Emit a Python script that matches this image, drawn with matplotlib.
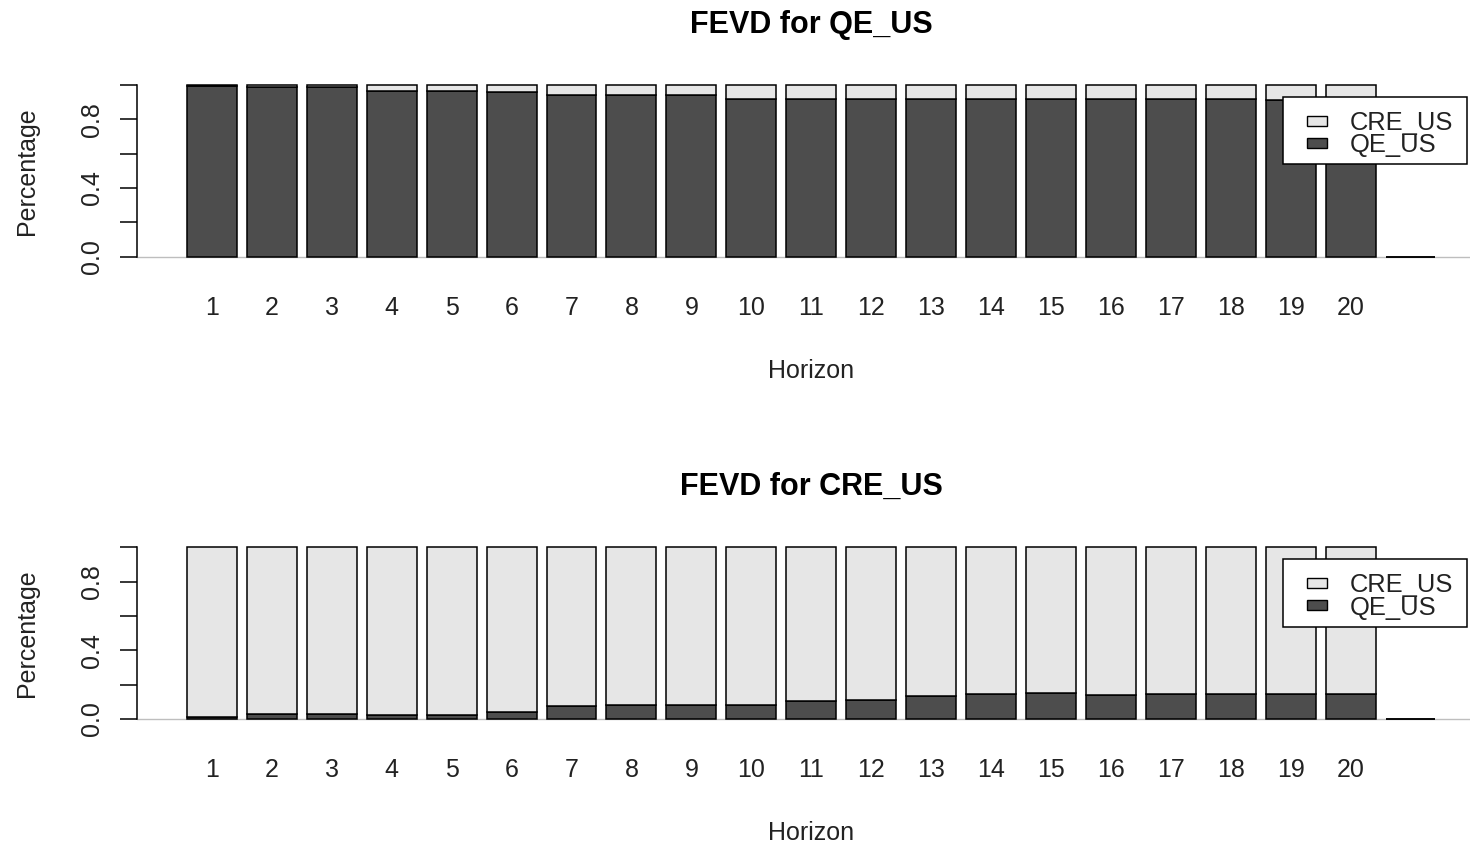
import matplotlib
matplotlib.use("Agg")
import matplotlib.pyplot as plt
from matplotlib.patches import Rectangle

plt.rcParams['font.family'] = ['Liberation Sans', 'DejaVu Sans']

# forecast error variance decomposition, horizons 1..20
horizons = [str(h) for h in range(1, 21)]
variables = ['CRE_US', 'QE_US']

# FEVD for QE_US
qe_share_qe = [0.994, 0.990, 0.987, 0.962, 0.962, 0.961, 0.940, 0.940, 0.942, 0.921,
               0.921, 0.921, 0.921, 0.921, 0.921, 0.921, 0.921, 0.920, 0.913, 0.913]
cre_share_qe = [0.006, 0.010, 0.013, 0.038, 0.038, 0.039, 0.060, 0.060, 0.058, 0.079,
                0.079, 0.079, 0.079, 0.079, 0.079, 0.079, 0.079, 0.080, 0.087, 0.087]

# FEVD for CRE_US
qe_share_cre = [0.014, 0.027, 0.029, 0.025, 0.025, 0.039, 0.074, 0.083, 0.083, 0.083,
                0.103, 0.112, 0.132, 0.143, 0.149, 0.141, 0.147, 0.147, 0.147, 0.147]
cre_share_cre = [0.986, 0.973, 0.971, 0.975, 0.975, 0.961, 0.926, 0.917, 0.917, 0.917,
                 0.897, 0.888, 0.868, 0.857, 0.851, 0.859, 0.853, 0.853, 0.853, 0.853]

panels = [
    ('FEVD for QE_US', qe_share_qe, cre_share_qe),
    ('FEVD for CRE_US', qe_share_cre, cre_share_cre),
]

DARK = '#4D4D4D'
LIGHT = '#E6E6E6'

W, H = 1470, 847
fig = plt.figure(figsize=(W / 100, H / 100), dpi=100)


def fx(x):
    return x / W


def fy(y):
    return 1 - y / H


def draw_panel(top_px, title, qe_vals, cre_vals):
    # plot region: y from -0.04 to 1.04, x a little past the last (empty) slot
    left, width = 137, 1348.4
    zero_px = top_px + 171.7
    ax = fig.add_axes([fx(left), fy(zero_px + 6.87), width / W, 185.5 / H])

    # empty slot after horizon 20 leaves room for the legend
    qe = list(qe_vals) + [0.0]
    cre = list(cre_vals) + [0.0]
    labels = horizons + ['']
    pos = list(range(1, len(qe) + 1))

    ax.axhline(0, color='#BEBEBE', lw=1.0, zorder=0)
    ax.bar(pos, qe, width=1 / 1.2, color=DARK, edgecolor='black', linewidth=1.1, zorder=2)
    ax.bar(pos, cre, bottom=qe, width=1 / 1.2, color=LIGHT, edgecolor='black',
           linewidth=1.1, zorder=2)

    ax.set_xlim(-0.25, 22.25)
    ax.set_ylim(-0.04, 1.04)

    for s in ['top', 'right', 'bottom']:
        ax.spines[s].set_visible(False)
    ax.spines['left'].set_bounds(0, 1)
    ax.spines['left'].set_linewidth(1.1)

    ax.set_xticks(pos)
    ax.set_xticklabels(labels, fontsize=18, color='#222222')
    ax.tick_params(axis='x', length=0, pad=23.0)

    ax.set_yticks([0, 0.4, 0.8])
    ax.set_yticklabels(['0.0', '0.4', '0.8'], fontsize=18, color='#222222')
    ax.set_yticks([0.2, 0.6, 1.0], minor=True)
    ax.tick_params(axis='y', which='both', length=12.2, width=1.1, pad=15.1)
    for lab in ax.get_yticklabels():
        lab.set_rotation(90)
        lab.set_rotation_mode('anchor')
        lab.set_ha('center')
        lab.set_va('baseline')

    ax.set_title(title, fontsize=22, fontweight='bold', pad=32.5)
    ax.set_xlabel('Horizon', fontsize=18, color='#222222')
    ax.xaxis.set_label_coords(0.5, -0.6167)
    ax.xaxis.label.set_va('baseline')
    ax.set_ylabel('Percentage', fontsize=18, color='#222222')
    ax.yaxis.set_label_coords(-0.0762, 0.5)
    ax.yaxis.label.set_va('baseline')

    # legend box, drawn on top of the last bars
    lt = top_px + 11.7
    fig.add_artist(Rectangle((fx(1283), fy(lt + 67.6)), 184 / W, 67.6 / H,
                             transform=fig.transFigure, facecolor='white',
                             edgecolor='black', linewidth=1.1))
    for i, (name, col) in enumerate(zip(variables, [LIGHT, DARK])):
        cy = lt + 24.1 + i * 22.3
        fig.add_artist(Rectangle((fx(1307), fy(cy + 5)), 20 / W, 10 / H,
                                 transform=fig.transFigure, facecolor=col,
                                 edgecolor='black', linewidth=1.0))
        fig.text(fx(1350), fy(cy + 9.2), name, fontsize=18.4, va='baseline', ha='left',
                 color='#222222')
    return ax


for (title, qe_vals, cre_vals), top_px in zip(panels, [85, 547.3]):
    draw_panel(top_px, title, qe_vals, cre_vals)

fig.savefig('out.png', dpi=100)
